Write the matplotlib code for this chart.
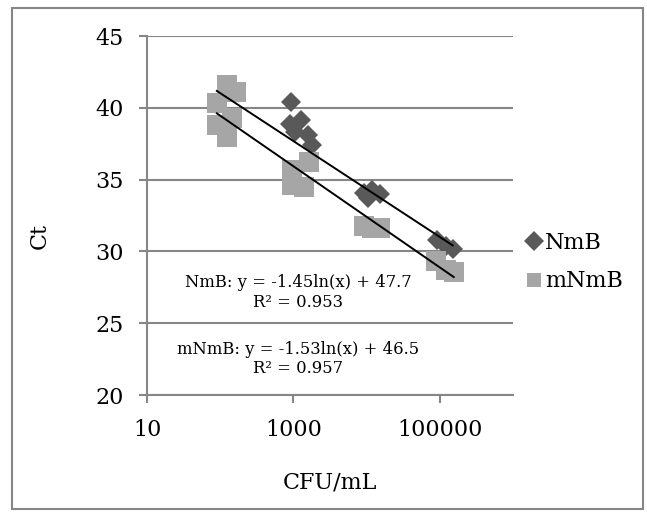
import numpy as np
import matplotlib
matplotlib.use("Agg")
import matplotlib.pyplot as plt
from matplotlib.patches import Rectangle

plt.rcParams['font.family'] = ['DejaVu Serif']

# NmB (diamonds)
# (the lowest dilution points sit underneath the mNmB squares)
nmb_x = [90, 164, 145, 920, 900, 1260, 1040, 1570, 1780,
         9100, 12000, 15400, 10500, 93000, 120000, 150000]
nmb_ct = [40.3, 41.1, 39.3, 40.4, 38.9, 39.15, 38.3, 38.1, 37.4,
          34.1, 34.3, 34.0, 33.7, 30.8, 30.4, 30.2]

# mNmB (squares)
mnmb_x = [125, 164, 90, 90, 145, 125,
          950, 1620, 950, 1380,
          9100, 12000, 15400,
          90000, 120000, 155000]
mnmb_ct = [41.6, 41.1, 40.3, 38.8, 39.3, 38.0,
           35.7, 36.2, 34.6, 34.5,
           31.8, 31.6, 31.6,
           29.3, 28.7, 28.6]

# log trendlines as given in the chart: y = a*ln(x) + b
nmb_fit = (-1.45, 47.7)
mnmb_fit = (-1.53, 46.5)

dark = '#595959'
light = '#a6a6a6'
grid_col = '#868686'

W, H = 647, 512
fig = plt.figure(figsize=(W / 100, H / 100), dpi=100)
ax = fig.add_axes([147 / W, 1 - 395 / H, (513 - 147) / W, (395 - 36) / H])

ax.plot(nmb_x, nmb_ct, linestyle='none', marker='D', markersize=10.2,
        color=dark, markeredgewidth=0, label='NmB', zorder=3)
ax.plot(mnmb_x, mnmb_ct, linestyle='none', marker='s', markersize=14.4,
        color=light, markeredgewidth=0, label='mNmB', zorder=4)

for xs, (a, b) in [(nmb_x, nmb_fit), (mnmb_x, mnmb_fit)]:
    xx = np.array([min(xs), max(xs)])
    ax.plot(xx, a * np.log(xx) + b, color='black', linewidth=1.4, zorder=5)

ax.set_xscale('log')
ax.set_xlim(10, 1e6)
ax.set_ylim(20, 45)
ax.set_xticks([10, 1000, 100000])
ax.set_xticklabels(['10', '1000', '100000'])
ax.xaxis.set_minor_locator(matplotlib.ticker.NullLocator())
ax.set_yticks([20, 25, 30, 35, 40, 45])
ax.yaxis.grid(True, color=grid_col, linewidth=1.5)
ax.set_axisbelow(True)
for s in ['top', 'right']:
    ax.spines[s].set_visible(False)
for s in ['left', 'bottom']:
    ax.spines[s].set_color(grid_col)
    ax.spines[s].set_linewidth(1.5)
ax.tick_params(axis='both', colors=grid_col, width=1.5, length=6,
               labelcolor='black', labelsize=16)
ax.tick_params(axis='x', pad=11)
ax.tick_params(axis='y', pad=11)

ax.set_xlabel('CFU/mL', fontsize=16, labelpad=22)
ax.set_ylabel('Ct', fontsize=16)
ax.yaxis.set_label_coords(-0.262, 0.443)

ax.text(0.413, 0.285, 'NmB: y = -1.45ln(x) + 47.7\nR² = 0.953', transform=ax.transAxes,
        ha='center', va='center', fontsize=11.8, linespacing=1.2)
ax.text(0.413, 0.10, 'mNmB: y = -1.53ln(x) + 46.5\nR² = 0.957', transform=ax.transAxes,
        ha='center', va='center', fontsize=11.8, linespacing=1.2)

leg = fig.legend(loc='center left', bbox_to_anchor=(503 / W, 1 - 262 / H),
                 frameon=False, fontsize=16, handletextpad=0.0,
                 handlelength=1.0, labelspacing=0.75)
for h in leg.legend_handles:
    h.set_markersize(10)

fig.patches.append(Rectangle((12 / W, 3 / H), 631 / W, 1 - 11 / H, transform=fig.transFigure,
                             fill=False, edgecolor=grid_col, linewidth=1.5))

fig.savefig('out.png', dpi=100)
